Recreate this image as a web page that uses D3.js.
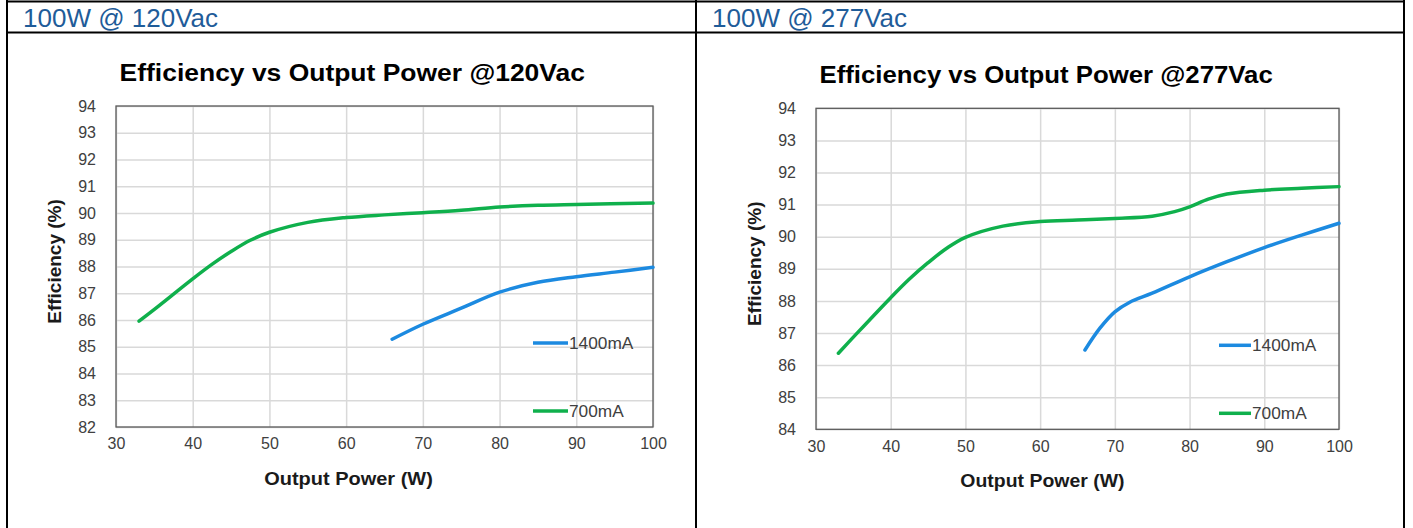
<!DOCTYPE html>
<html>
<head>
<meta charset="utf-8">
<script src="https://cdn.jsdelivr.net/npm/d3@7"></script>
<style>
  body { margin: 0; background: #fff; }
  svg { display: block; font-family: Arial, "Liberation Sans", sans-serif; }
</style>
</head>
<body>
<svg width="1413" height="528"></svg>
<script>
// tick labels
const xTicks = [30, 40, 50, 60, 70, 80, 90, 100];
const yTicks120 = [82, 83, 84, 85, 86, 87, 88, 89, 90, 91, 92, 93, 94];
const yTicks277 = [84, 85, 86, 87, 88, 89, 90, 91, 92, 93, 94];
const seriesNames = ['1400mA', '700mA'];

// 120Vac
const power120_1400 = [66, 70, 75, 80, 85, 90, 95, 100];
const eff120_1400 = [85.28, 85.84, 86.44, 87.04, 87.41, 87.62, 87.79, 87.97];
const power120_700 = [33, 35, 40, 42.5, 45, 47.5, 50, 55, 60, 65, 70, 75, 80, 85, 90, 100];
const eff120_700 = [85.96, 86.4, 87.54, 88.08, 88.56, 88.98, 89.28, 89.65, 89.83, 89.93, 90.01, 90.1, 90.22, 90.29, 90.32, 90.37];

// 277Vac
const power277_1400 = [66, 68, 70, 72, 75, 80, 85, 90, 95, 100];
const eff277_1400 = [86.47, 87.15, 87.66, 87.96, 88.24, 88.75, 89.22, 89.66, 90.05, 90.42];
const power277_700 = [33, 35, 40, 42.5, 45, 47.5, 50, 55, 60, 65, 70, 75, 78, 80, 82.5, 85, 90, 95, 100];
const eff277_700 = [86.37, 86.87, 88.1, 88.68, 89.19, 89.64, 89.98, 90.33, 90.47, 90.52, 90.57, 90.64, 90.78, 90.93, 91.17, 91.33, 91.45, 91.51, 91.56];

const COLORS = { '1400mA': '#1c8ae0', '700mA': '#0fb04c' };

function zip(xs, ys) {
  return xs.map((x, i) => ({ x: x, y: ys[i] }));
}

// the charts in the picture are pasted images stretched sideways a bit
function stretch(sel, factor) {
  sel.each(function () {
    const w = this.getComputedTextLength();
    d3.select(this).attr('textLength', w * factor).attr('lengthAdjust', 'spacingAndGlyphs');
  });
}

const panels = [
  {
    header: '100W @ 120Vac',
    title: 'Efficiency vs Output Power @120Vac',
    yTicks: yTicks120,
    series: [zip(power120_1400, eff120_1400), zip(power120_700, eff120_700)],
    cellLeft: 7,
    plot: { left: 116, top: 106, right: 653, bottom: 427 },
    legendLine: 35,
    squeeze: 1.15,
  },
  {
    header: '100W @ 277Vac',
    title: 'Efficiency vs Output Power @277Vac',
    yTicks: yTicks277,
    series: [zip(power277_1400, eff277_1400), zip(power277_700, eff277_700)],
    cellLeft: 696,
    plot: { left: 816, top: 108.3, right: 1339, bottom: 429.3 },
    legendLine: 32,
    squeeze: 1.12,
  },
];

const svg = d3.select('svg');

// table frame
const frame = svg.append('g').attr('stroke', '#000').attr('stroke-width', 2);
frame.append('line').attr('x1', 6).attr('x2', 1405).attr('y1', 1.5).attr('y2', 1.5);
frame.append('line').attr('x1', 6).attr('x2', 1405).attr('y1', 32.5).attr('y2', 32.5);
[7, 696, 1404].forEach(x => {
  frame.append('line').attr('x1', x).attr('x2', x).attr('y1', 0).attr('y2', 528);
});

panels.forEach(p => {
  svg.append('text')
    .attr('x', p.cellLeft + 16)
    .attr('y', 27)
    .attr('fill', '#1f5c99')
    .style('font-size', '26px')
    .text(p.header);

  const b = p.plot;
  const w = b.right - b.left;
  const x = d3.scaleLinear().domain([30, 100]).range([b.left, b.right]);
  const y = d3.scaleLinear().domain(d3.extent(p.yTicks)).range([b.bottom, b.top]);
  const g = svg.append('g');

  // grid
  g.append('g')
    .attr('transform', `translate(0,${b.bottom})`)
    .call(d3.axisBottom(x).tickValues(xTicks).tickSize(-(b.bottom - b.top)).tickFormat(''))
    .call(a => a.select('.domain').remove())
    .call(a => a.selectAll('line').attr('stroke', '#d9d9d9').attr('stroke-width', 1.5));
  g.append('g')
    .attr('transform', `translate(${b.left},0)`)
    .call(d3.axisLeft(y).tickValues(p.yTicks).tickSize(-w).tickFormat(''))
    .call(a => a.select('.domain').remove())
    .call(a => a.selectAll('line').attr('stroke', '#d9d9d9').attr('stroke-width', 1.5));

  g.append('rect')
    .attr('x', b.left).attr('y', b.top)
    .attr('width', w).attr('height', b.bottom - b.top)
    .attr('fill', 'none').attr('stroke', '#5a5a5a').attr('stroke-width', 1.3);

  // tick labels
  const xAx = g.append('g')
    .attr('transform', `translate(0,${b.bottom})`)
    .call(d3.axisBottom(x).tickValues(xTicks).tickSize(0).tickPadding(11));
  const yAx = g.append('g')
    .attr('transform', `translate(${b.left},0)`)
    .call(d3.axisLeft(y).tickValues(p.yTicks).tickSize(0).tickPadding(20));
  [xAx, yAx].forEach(a => {
    a.select('.domain').remove();
    a.selectAll('text')
      .attr('fill', '#404040')
      .style('font-size', '16px')
      .style('font-family', 'Arial, "Liberation Sans", sans-serif');
  });

  // titles
  svg.append('text')
    .attr('x', b.left + 0.44 * w).attr('y', b.top - 25)
    .attr('text-anchor', 'middle')
    .attr('fill', '#000')
    .style('font-size', '23px').style('font-weight', 'bold')
    .text(p.title)
    .call(stretch, p.squeeze);

  svg.append('text')
    .attr('x', b.left + 0.433 * w).attr('y', b.bottom + 58)
    .attr('text-anchor', 'middle')
    .attr('fill', '#1a1a1a')
    .style('font-size', '18px').style('font-weight', 'bold')
    .text('Output Power (W)')
    .call(stretch, p.squeeze - 0.04);

  svg.append('text')
    .attr('transform', `translate(${b.left - 55},${(b.top + b.bottom) / 2 - 5}) rotate(-90)`)
    .attr('text-anchor', 'middle')
    .attr('fill', '#1a1a1a')
    .style('font-size', '19px').style('font-weight', 'bold')
    .text('Efficiency (%)');

  // curves
  const line = d3.line()
    .x(d => x(d.x))
    .y(d => y(d.y))
    .curve(d3.curveCatmullRom.alpha(0.5));

  g.selectAll('path.series')
    .data(p.series)
    .enter()
    .append('path')
    .attr('class', 'series')
    .attr('d', line)
    .attr('fill', 'none')
    .attr('stroke', (d, i) => COLORS[seriesNames[i]])
    .attr('stroke-width', 3.5)
    .attr('stroke-linecap', 'round');

  // legend
  const legendY = [b.bottom - 84, b.bottom - 16];
  seriesNames.forEach((name, i) => {
    const lx = b.right - 120;
    g.append('line')
      .attr('x1', lx).attr('x2', lx + p.legendLine)
      .attr('y1', legendY[i]).attr('y2', legendY[i])
      .attr('stroke', COLORS[name]).attr('stroke-width', 3.5);
    g.append('text')
      .attr('x', lx + p.legendLine + 1).attr('y', legendY[i])
      .attr('dy', '0.36em')
      .attr('fill', '#404040')
      .style('font-size', '16px')
      .text(name)
      .call(stretch, 1.08);
  });
});
</script>
</body>
</html>
